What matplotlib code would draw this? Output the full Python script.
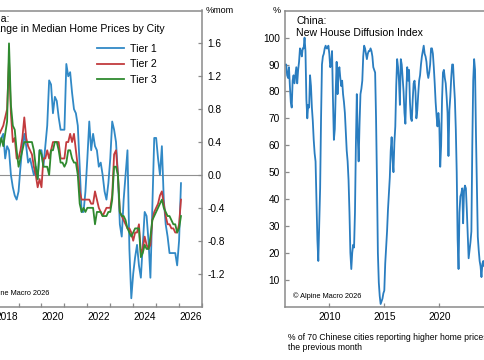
import numpy as np
import matplotlib
matplotlib.use('Agg')
from matplotlib import pyplot as plt
from matplotlib.ticker import FixedLocator, NullFormatter, FixedFormatter

plt.rcParams['font.family'] = ['Liberation Sans', 'DejaVu Sans']

# monthly % change, Jan 2018 .. Feb 2026
tier1 = [0.2, 0.3, 0.35, 0.45, 0.5, 0.2, 0.35, 0.3, 0.0, -0.15, -0.25, -0.3,
         -0.2, 0.1, 0.35, 0.5, 0.35, 0.15, 0.2, 0.1, 0.0, 0.1, -0.05, 0.3,
         0.3, 0.1, 0.35, 0.6, 1.15, 1.1, 0.75, 0.95, 0.9, 0.7, 0.55, 0.55,
         0.55, 1.35, 1.2, 1.25, 1.0, 0.8, 0.75, 0.6, 0.1, -0.45, -0.45, -0.2,
         0.2, 0.65, 0.3, 0.5, 0.35, 0.3, 0.1, 0.15, 0.0, -0.2, -0.3, -0.1,
         0.2, 0.65, 0.55, 0.4, 0.0, -0.6, -0.75, -0.3, 0.0, 0.3, -0.9, -1.5,
         -1.2, -1.0, -0.85, -1.1, -1.25, -0.85, -0.45, -0.5, -0.8, -1.25, -0.4, 0.45,
         0.45, 0.2, 0.0, 0.35, -0.3, -0.6, -0.75, -0.95, -0.95, -0.95, -0.95, -1.1,
         -0.8, -0.1]
tier2 = [0.5, 0.55, 0.5, 0.55, 0.6, 0.7, 0.8, 1.4, 0.75, 0.4, 0.45, 0.2,
         0.2, 0.3, 0.45, 0.7, 0.45, 0.35, 0.3, 0.25, 0.1, 0.0, -0.15, -0.05,
         -0.15, 0.2, 0.2, 0.3, 0.2, 0.3, 0.4, 0.4, 0.4, 0.4, 0.2, 0.2,
         0.2, 0.4, 0.4, 0.5, 0.4, 0.5, 0.3, 0.1, -0.2, -0.3, -0.3, -0.3,
         -0.3, -0.3, -0.35, -0.35, -0.2, -0.3, -0.4, -0.45, -0.5, -0.45, -0.4, -0.4,
         -0.4, -0.25, 0.25, 0.3, 0.0, -0.45, -0.5, -0.55, -0.6, -0.65, -0.65, -0.7,
         -0.8, -0.7, -0.7, -0.6, -0.95, -0.9, -0.75, -0.85, -0.9, -0.85, -0.55, -0.45,
         -0.4, -0.35, -0.25, -0.2, -0.35, -0.5, -0.6, -0.6, -0.65, -0.65, -0.7, -0.7,
         -0.6, -0.3]
tier3 = [0.3, 0.2, 0.35, 0.45, 0.35, 0.5, 0.65, 1.6, 0.85, 0.6, 0.55, 0.3,
         0.1, 0.2, 0.3, 0.4, 0.4, 0.4, 0.4, 0.4, 0.3, 0.1, -0.05, 0.3,
         0.25, 0.1, 0.1, 0.1, 0.0, 0.3, 0.3, 0.4, 0.4, 0.3, 0.15, 0.15,
         0.1, 0.15, 0.3, 0.3, 0.2, 0.15, 0.15, 0.0, -0.35, -0.45, -0.4, -0.45,
         -0.4, -0.4, -0.4, -0.4, -0.6, -0.45, -0.45, -0.45, -0.5, -0.5, -0.5, -0.45,
         -0.45, -0.3, 0.1, 0.1, 0.0, -0.45, -0.5, -0.5, -0.55, -0.65, -0.7, -0.75,
         -0.7, -0.65, -0.65, -0.65, -1.0, -0.95, -0.85, -0.9, -0.9, -0.75, -0.55, -0.5,
         -0.45, -0.4, -0.35, -0.3, -0.4, -0.45, -0.5, -0.5, -0.55, -0.6, -0.6, -0.7,
         -0.65, -0.5]
tier_names = ['Tier 1', 'Tier 2', 'Tier 3']
tier_colors = ['#3189c6', '#c23b3e', '#2f8a2f']

# diffusion index, % of 70 cities, monthly from Jan 2006
diffusion = [90, 90, 86, 85, 89, 82, 76, 74, 84, 86, 83, 86,
             89, 83, 88, 91, 96, 95, 93, 96, 96, 100, 95, 77,
             70, 75, 74, 86, 82, 74, 69, 62, 57, 54, 40, 25,
             17, 30, 44, 70, 90, 93, 94, 96, 97, 96, 96, 97,
             94, 89, 90, 95, 77, 62, 66, 80, 91, 79, 87, 89,
             85, 82, 84, 79, 76, 72, 65, 58, 54, 47, 35, 20,
             14, 20, 23, 22, 35, 60, 79, 64, 54, 68, 79, 81,
             84, 93, 97, 96, 94, 92, 94, 95, 95, 96, 95, 93,
             89, 88, 87, 70, 47, 20, 9, 4, 1, 2, 3, 5,
             6, 16, 22, 28, 36, 42, 48, 58, 63, 55, 50, 61,
             67, 82, 92, 89, 84, 75, 92, 90, 85, 80, 72, 68,
             80, 89, 84, 88, 76, 70, 69, 77, 83, 84, 80, 70,
             73, 79, 84, 86, 90, 93, 95, 97, 94, 93, 91, 87,
             85, 87, 90, 96, 96, 94, 89, 83, 76, 71, 67, 72,
             68, 52, 60, 77, 87, 88, 85, 83, 78, 72, 56, 73,
             78, 85, 90, 90, 83, 77, 66, 50, 25, 14, 35, 41,
             42, 44, 31, 43, 45, 44, 36, 27, 18, 21, 24, 28,
             60, 84, 92, 88, 64, 45, 26, 21, 17, 15, 11, 16,
             17, 15, 17, 14, 12, 10, 9, 8]

left_years = [2018, 2020, 2022, 2024, 2026]
right_years = [2010, 2015, 2020]

W, H = 485, 360


def fx(x):
    return x / W


def fy(y):
    return 1 - y / H


fig = plt.figure(figsize=(W / 100, H / 100), dpi=100)
frame_col = '#8a8a8a'

# ---- left panel (cut off at the left edge, like the reference)
ax1 = fig.add_axes([fx(-27.3), fy(306.5), 229.3 / W, 296.0 / H])
t1 = 2018 + np.arange(len(tier1)) / 12
for vals, name, col in zip([tier1, tier2, tier3], tier_names, tier_colors):
    ax1.plot(t1[:len(vals)], vals, color=col, lw=1.3, label=name)
ax1.axhline(0, color='#909090', lw=0.8, zorder=0)
ax1.set_xlim(2017, 2027)
ax1.set_ylim(-1.6, 2.0)
ax1.yaxis.tick_right()
ax1.set_yticks(np.arange(-1.2, 1.61, 0.4))
ax1.set_yticklabels(['%.1f' % v for v in np.arange(-1.2, 1.61, 0.4)])
# ticks at year starts, labels centred on the even years
ax1.xaxis.set_major_locator(FixedLocator(np.arange(2017, 2028)))
ax1.xaxis.set_major_formatter(NullFormatter())
ax1.xaxis.set_minor_locator(FixedLocator([y + 0.5 for y in left_years]))
ax1.xaxis.set_minor_formatter(FixedFormatter([str(y) for y in left_years]))
ax1.tick_params(axis='x', which='major', direction='in', length=3,
                color=frame_col, width=0.9)
ax1.tick_params(axis='x', which='minor', length=0, labelsize=7.3, pad=4)
ax1.tick_params(axis='y', direction='in', length=3, color=frame_col,
                width=0.9, labelsize=7.3, pad=4)
for s in ax1.spines.values():
    s.set_color(frame_col)
    s.set_linewidth(1.1)
ax1.legend(loc='upper left', bbox_to_anchor=(fx(97.0), fy(43.5)),
           bbox_transform=fig.transFigure, frameon=False, fontsize=7.6,
           handlelength=2.6, handletextpad=0.5, labelspacing=0.55,
           borderpad=0, borderaxespad=0)

fig.text(fx(-21), fy(14.5), 'China:', fontsize=7.6, va='top', ha='left')
fig.text(fx(-19), fy(24.5), 'Change in Median Home Prices by City',
         fontsize=7.6, va='top', ha='left')
fig.text(fx(-19), fy(293.5), '\u00a9 Alpine Macro 2026', fontsize=5.3,
         va='center', ha='left')
fig.text(fx(206), fy(10.5), '%mom', fontsize=6.5, va='center', ha='left')

# ---- right panel (cut off at the right edge)
ax2 = fig.add_axes([fx(285.3), fy(306.7), 231.0 / W, 296.0 / H])
t2 = 2006 + np.arange(len(diffusion)) / 12
ax2.plot(t2, diffusion, color='#2a7dc0', lw=1.3)
ax2.set_xlim(2006, 2027)
ax2.set_ylim(0, 110)
ax2.set_yticks(range(10, 101, 10))
ax2.set_xticks(right_years)
ax2.tick_params(direction='in', length=3, color=frame_col, width=0.9,
                labelsize=7.3, pad=4)
for s in ax2.spines.values():
    s.set_color(frame_col)
    s.set_linewidth(1.1)

fig.text(fx(296.3), fy(15.5), 'China:', fontsize=7.6, va='top', ha='left')
fig.text(fx(296.3), fy(28), 'New House Diffusion Index', fontsize=7.6,
         va='top', ha='left')
fig.text(fx(292.7), fy(295.7), '\u00a9 Alpine Macro 2026', fontsize=5.3,
         va='center', ha='left')
fig.text(fx(280.5), fy(10.5), '%', fontsize=6.5, va='center', ha='right')
fig.text(fx(287.7), fy(332.5), '% of 70 Chinese cities reporting higher home prices than',
         fontsize=6.2, va='top', ha='left')
fig.text(fx(287.7), fy(343.2), 'the previous month', fontsize=6.2,
         va='top', ha='left')

fig.savefig('out.png', dpi=100)
